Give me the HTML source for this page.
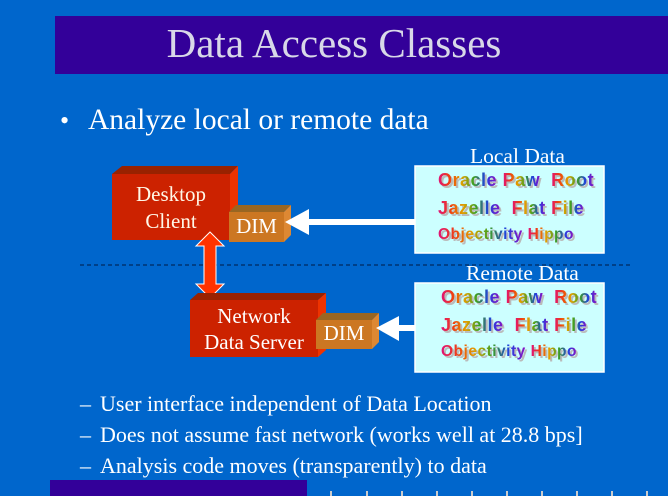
<!DOCTYPE html>
<html><head><style>
body{margin:0;width:668px;height:496px;background:#0066cc;position:relative;overflow:hidden;font-family:"Liberation Serif",serif;}
.a{position:absolute;}
.t{color:#fff;white-space:nowrap;}
.rb{position:absolute;font-family:"Liberation Sans",sans-serif;font-weight:bold;font-size:18px;white-space:nowrap;letter-spacing:0.5px;}
.rb span{background:linear-gradient(90deg,#e0107a,#f04010,#e0a000,#40a020,#2040e0,#9010c0);-webkit-background-clip:text;background-clip:text;color:transparent;}
.rbs{position:absolute;font-family:"Liberation Sans",sans-serif;font-weight:bold;font-size:18px;white-space:nowrap;letter-spacing:0.5px;color:#bbb;}
</style></head><body>
<div class="a" style="left:55px;top:16px;width:613px;height:58px;background:#330099"></div>
<div class="a t" style="left:0px;top:19px;width:668px;text-align:center;font-size:41px;color:#d8d8e8;">Data Access Classes</div>
<div class="a t" style="left:60px;top:106px;font-size:26px;">•</div>
<div class="a t" style="left:88px;top:104px;font-size:29.5px;">Analyze local or remote data</div>

<svg class="a" style="left:0;top:0" width="668" height="496">
<polygon points="112,174 122,166 238,166 230,174" fill="#992200"/>
<polygon points="230,174 238,166 238,232 230,240" fill="#ee3300"/>
<rect x="112" y="174" width="118" height="66" fill="#cc2200"/>
<polygon points="229,212 236,205 291,205 284,212" fill="#996622"/>
<polygon points="284,212 291,205 291,235 284,242" fill="#dd8833"/>
<rect x="229" y="212" width="55" height="30" fill="#cc7722"/>
<rect x="305" y="219" width="112" height="6" fill="#fff"/>
<polygon points="285,222 309,209 309,235" fill="#fff"/>
<line x1="80" y1="265" x2="630" y2="265" stroke="#001a44" stroke-width="1" stroke-dasharray="4,3"/>
<polygon points="210,232 224,246 216,246 216,284 224,284 210,298 196,284 204,284 204,246 196,246" fill="#ff3300" stroke="#fff" stroke-width="1"/>
<polygon points="190,300 198,293 326,293 318,300" fill="#992200"/>
<polygon points="318,300 326,293 326,350 318,357" fill="#ee3300"/>
<rect x="190" y="300" width="128" height="57" fill="#cc2200"/>
<polygon points="316,320 323,313 379,313 372,320" fill="#996622"/>
<polygon points="372,320 379,313 379,342 372,349" fill="#dd8833"/>
<rect x="316" y="320" width="56" height="29" fill="#cc7722"/>
<rect x="395" y="325" width="22" height="6" fill="#fff"/>
<polygon points="376,328 399,316 399,341" fill="#fff"/>
<rect x="415" y="166" width="189" height="87" fill="#ccffff" stroke="#fff" stroke-width="1.5"/>
<rect x="415" y="283" width="189" height="89" fill="#ccffff" stroke="#fff" stroke-width="1.5"/>
<rect x="50" y="480" width="257" height="16" fill="#330099"/>
<g fill="#ccc"><rect x="330" y="491" width="2" height="5"/><rect x="366" y="491" width="2" height="5"/><rect x="401" y="491" width="2" height="5"/><rect x="436" y="491" width="2" height="5"/><rect x="471" y="491" width="2" height="5"/><rect x="506" y="491" width="2" height="5"/><rect x="541" y="491" width="2" height="5"/><rect x="576" y="491" width="2" height="5"/><rect x="611" y="491" width="2" height="5"/><rect x="646" y="491" width="2" height="5"/></g>
</svg>

<div class="a t" style="left:112px;top:181px;width:118px;text-align:center;font-size:21px;line-height:27px;color:#fff8e8">Desktop<br>Client</div>
<div class="a t" style="left:229px;top:214px;width:55px;text-align:center;font-size:21px;">DIM</div>
<div class="a t" style="left:190px;top:303px;width:128px;text-align:center;font-size:21px;line-height:26px;">Network<br>Data Server</div>
<div class="a t" style="left:316px;top:321px;width:56px;text-align:center;font-size:21px;">DIM</div>
<div class="a t" style="left:470px;top:144px;font-size:21.5px;">Local Data</div>
<div class="a t" style="left:466px;top:261px;font-size:21.5px;">Remote Data</div>

<div class="rbs" style="left:440px;top:172px">Oracle Paw &nbsp;Root</div><div class="rb" style="left:438px;top:170px"><span>Oracle</span> <span>Paw</span> &nbsp;<span>Root</span></div>
<div class="rbs" style="left:440px;top:200px">Jazelle &nbsp;Flat File</div><div class="rb" style="left:438px;top:198px"><span>Jazelle</span> &nbsp;<span>Flat</span> <span>File</span></div>
<div class="rbs" style="left:440px;top:228px;font-size:15.5px">Objectivity Hippo</div><div class="rb" style="left:438px;top:226px;font-size:15.5px"><span>Objectivity</span> <span>Hippo</span></div>

<div class="rbs" style="left:443px;top:289px">Oracle Paw &nbsp;Root</div><div class="rb" style="left:441px;top:287px"><span>Oracle</span> <span>Paw</span> &nbsp;<span>Root</span></div>
<div class="rbs" style="left:443px;top:317px">Jazelle &nbsp;Flat File</div><div class="rb" style="left:441px;top:315px"><span>Jazelle</span> &nbsp;<span>Flat</span> <span>File</span></div>
<div class="rbs" style="left:443px;top:345px;font-size:15.5px">Objectivity Hippo</div><div class="rb" style="left:441px;top:343px;font-size:15.5px"><span>Objectivity</span> <span>Hippo</span></div>

<div class="a t" style="left:80px;top:391px;font-size:22px;">–</div>
<div class="a t" style="left:100px;top:391px;font-size:22px;">User interface independent of Data Location</div>
<div class="a t" style="left:80px;top:422px;font-size:22px;">–</div>
<div class="a t" style="left:100px;top:422px;font-size:22px;">Does not assume fast network (works well at 28.8 bps]</div>
<div class="a t" style="left:80px;top:453px;font-size:22px;">–</div>
<div class="a t" style="left:100px;top:453px;font-size:22px;">Analysis code moves (transparently) to data</div>
</body></html>
